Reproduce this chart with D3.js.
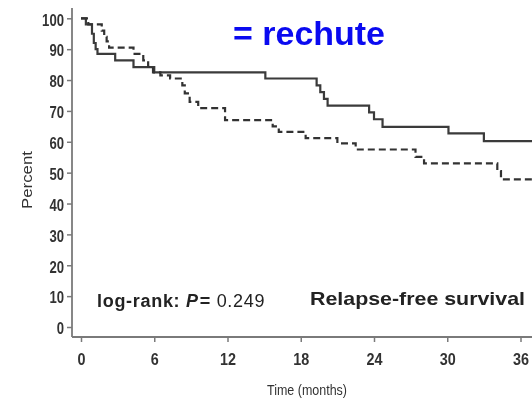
<!DOCTYPE html>
<html>
<head>
<meta charset="utf-8">
<script src="https://cdn.jsdelivr.net/npm/d3@7/dist/d3.min.js"></script>
<style>
  html, body { margin: 0; padding: 0; background: #fff; }
  svg { display: block; }
  text { font-family: "Liberation Sans", Arial, sans-serif; }
</style>
</head>
<body>
<svg id="chart" width="532" height="401"></svg>
<script>
// Kaplan-Meier relapse-free survival, two groups (months vs. percent)
const solidTimes = [0, 0.4, 0.9, 1.05, 1.2, 1.35, 2.8, 4.3, 6.0, 15.1, 19.3, 19.6, 19.9, 20.2, 23.6, 24.0, 24.7, 30.1, 33.0, 37];
const solidSurv  = [100, 98, 95, 92, 90, 88.5, 86.4, 84.2, 82.5, 80.5, 78.3, 76.1, 73.9, 71.7, 69.5, 67.3, 64.8, 62.7, 60.2, 60.2];

const dashedTimes = [0, 0.6, 1.7, 1.9, 2.1, 2.3, 4.3, 5.1, 5.5, 5.9, 6.5, 7.3, 8.3, 8.5, 8.9, 9.6, 11.8, 15.7, 16.2, 18.4, 21.0, 22.5, 27.4, 28.1, 34.1, 34.4, 37];
const dashedSurv  = [100, 98, 96, 94, 92.5, 90.5, 88.5, 86.4, 84.3, 82.5, 81.5, 80.5, 78.3, 75.7, 72.9, 70.9, 67, 65, 63.2, 61.2, 59.5, 57.5, 55.1, 53, 50.5, 47.8, 47.8];

const xTicks = [0, 6, 12, 18, 24, 30, 36];
const yTicks = [0, 10, 20, 30, 40, 50, 60, 70, 80, 90, 100];

const titleText = "= rechute";
const pLabel = { prefix: "log-rank: ", p: "P", eq: "= ", value: "0.249" };
const endpointLabel = "Relapse-free survival";
const xLabel = "Time (months)";
const yLabel = "Percent";

const svg = d3.select("#chart");
const W = 532;
const axisX = 72, axisY = 337, axisTop = 8;

const x = d3.scaleLinear().domain([0, 36]).range([81, 520.5]);
const y = d3.scaleLinear().domain([0, 100]).range([327, 18.3]);

const soft = svg.append("defs").append("filter").attr("id", "soft");
soft.append("feGaussianBlur").attr("stdDeviation", 0.45);

const g = svg.append("g").attr("filter", "url(#soft)");

// axes
const axisColor = "#7a7a7a";
g.append("line").attr("x1", axisX).attr("x2", axisX).attr("y1", axisTop).attr("y2", axisY)
  .attr("stroke", axisColor).attr("stroke-width", 1.8);
g.append("line").attr("x1", axisX).attr("x2", W).attr("y1", axisY).attr("y2", axisY)
  .attr("stroke", axisColor).attr("stroke-width", 1.8);

const tickFont = "'Liberation Sans Narrow', 'Liberation Sans', Arial, sans-serif";

const yAxis = g.append("g").attr("transform", `translate(${axisX},0)`)
  .call(d3.axisLeft(y).tickValues(yTicks).tickSize(5).tickPadding(3));
yAxis.select(".domain").remove();
yAxis.selectAll(".tick line").attr("stroke", axisColor).attr("stroke-width", 1.5);
yAxis.selectAll(".tick text")
  .attr("font-size", 17).attr("fill", "#333").attr("font-weight", "bold")
  .attr("x", -8).attr("dy", "0.4em")
  .attr("textLength", d => String(d).length * 7.3).attr("lengthAdjust", "spacingAndGlyphs")
  .style("font-family", tickFont);

const xAxis = g.append("g").attr("transform", `translate(0,${axisY})`)
  .call(d3.axisBottom(x).tickValues(xTicks).tickSize(5).tickPadding(3));
xAxis.select(".domain").remove();
xAxis.selectAll(".tick line").attr("stroke", axisColor).attr("stroke-width", 1.5);
xAxis.selectAll(".tick text")
  .attr("font-size", 17).attr("fill", "#333").attr("font-weight", "bold")
  .attr("y", 28).attr("dy", 0)
  .attr("textLength", d => String(d).length * 8).attr("lengthAdjust", "spacingAndGlyphs")
  .style("font-family", tickFont);

// survival curves
const line = d3.line().x(d => x(d[0])).y(d => y(d[1])).curve(d3.curveStepAfter);
const solid = solidTimes.map((t, i) => [t, solidSurv[i]]);
const dashed = dashedTimes.map((t, i) => [t, dashedSurv[i]]);

g.append("path").datum(solid).attr("d", line)
  .attr("fill", "none").attr("stroke", "#3a3a3a").attr("stroke-width", 2.2);
g.append("path").datum(dashed).attr("d", line)
  .attr("fill", "none").attr("stroke", "#333").attr("stroke-width", 2.2)
  .attr("stroke-dasharray", "7,4");

// axis titles
g.append("text").attr("transform", "translate(32,180) rotate(-90)")
  .attr("text-anchor", "middle").attr("font-size", 14).attr("fill", "#333")
  .attr("textLength", 58).attr("lengthAdjust", "spacingAndGlyphs")
  .text(yLabel);
g.append("text").attr("x", 307).attr("y", 395)
  .attr("text-anchor", "middle").attr("font-size", 14).attr("fill", "#333")
  .attr("textLength", 80).attr("lengthAdjust", "spacingAndGlyphs")
  .text(xLabel);

// annotations
const pt = g.append("text").attr("x", 97).attr("y", 307).attr("font-size", 18)
  .attr("fill", "#222").attr("letter-spacing", 0.7);
pt.append("tspan").attr("font-weight", "bold").text(pLabel.prefix);
pt.append("tspan").attr("font-weight", "bold").attr("font-style", "italic").text(pLabel.p);
pt.append("tspan").attr("font-weight", "bold").attr("dx", 1).text(pLabel.eq);
pt.append("tspan").text(pLabel.value);

g.append("text").attr("x", 310).attr("y", 305).attr("font-size", 19)
  .attr("font-weight", "bold").attr("fill", "#222")
  .attr("textLength", 215).attr("lengthAdjust", "spacingAndGlyphs")
  .text(endpointLabel);

svg.append("text").attr("x", 233).attr("y", 45).attr("font-size", 34)
  .attr("font-weight", "bold").attr("fill", "#0a0af0")
  .attr("textLength", 152).attr("lengthAdjust", "spacingAndGlyphs")
  .text(titleText);
</script>
</body>
</html>
